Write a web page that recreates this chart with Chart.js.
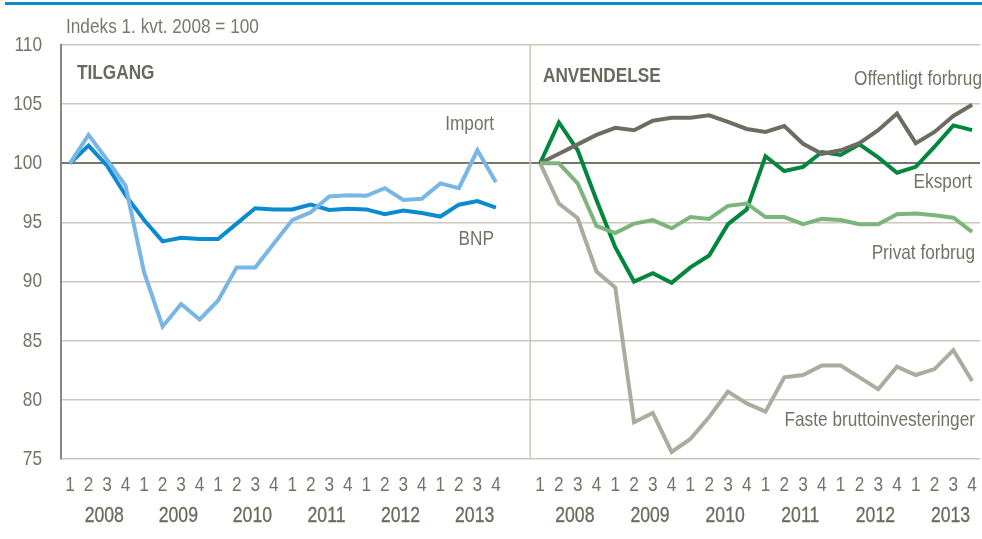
<!DOCTYPE html>
<html>
<head>
<meta charset="utf-8">
<script src="https://cdn.jsdelivr.net/npm/chart.js@4.4.1/dist/chart.umd.min.js"></script>
<style>
html, body { margin: 0; padding: 0; background: #fff; }
#chart { display: block; }
</style>
</head>
<body>
<canvas id="chart" width="982" height="539"></canvas>
<script>
// quarters 2008K1 - 2013K4, index 1. kvt. 2008 = 100
const quarters = ['1', '2', '3', '4'];
const years = ['2008', '2009', '2010', '2011', '2012', '2013'];
const yTicks = [75, 80, 85, 90, 95, 100, 105, 110];

// TILGANG
const bnp = [100, 101.5, 99.8, 97.3, 95.2, 93.4, 93.7, 93.6, 93.6, 94.9, 96.2, 96.1,
             96.1, 96.5, 96.05, 96.15, 96.1, 95.7, 96.0, 95.8, 95.5, 96.5, 96.8, 96.25];
const importSeries = [100, 102.4, 100.3, 98.1, 90.8, 86.2, 88.1, 86.8, 88.4, 91.2, 91.2, 93.2,
             95.2, 95.85, 97.2, 97.3, 97.25, 97.9, 96.9, 97.0, 98.3, 97.9, 101.1, 98.4];

// ANVENDELSE
const offentligt = [100, 100.8, 101.6, 102.4, 103.0, 102.8, 103.6, 103.85, 103.85, 104.05, 103.5, 102.9,
             102.65, 103.15, 101.65, 100.8, 101.1, 101.7, 102.8, 104.2, 101.7, 102.65, 104.0, 104.95];
const eksport = [100, 103.45, 101.1, 96.9, 92.9, 90.0, 90.7, 89.9, 91.2, 92.2, 94.85, 96.1,
             100.6, 99.35, 99.7, 100.95, 100.7, 101.6, 100.5, 99.2, 99.7, 101.4, 103.2, 102.8];
const privat = [100, 100, 98.3, 94.7, 94.1, 94.9, 95.2, 94.5, 95.45, 95.3, 96.4, 96.6,
             95.45, 95.45, 94.85, 95.3, 95.2, 94.85, 94.85, 95.7, 95.75, 95.6, 95.4, 94.2];
const faste = [100, 96.6, 95.35, 90.85, 89.5, 78.1, 78.9, 75.6, 76.7, 78.55, 80.7, 79.7,
             79.0, 81.9, 82.1, 82.9, 82.9, 81.9, 80.9, 82.8, 82.1, 82.6, 84.2, 81.6];

const FONT = "'Liberation Sans', Arial, sans-serif";
const TXT = '#747267';
const NARROW = 0.82;

function toPoints(arr) {
    return arr.map((v, i) => ({ x: i, y: v }));
}

function line(label, arr, color, axis) {
    return {
        label: label,
        data: toPoints(arr),
        xAxisID: axis,
        borderColor: color,
        borderWidth: 4,
        pointRadius: 0,
        tension: 0,
        fill: false,
        borderJoinStyle: 'miter'
    };
}

// condensed text: Liberation Sans squeezed horizontally
function narrowText(ctx, text, x, y, size, align, weight, color, stroke) {
    ctx.save();
    ctx.font = (weight || 'normal') + ' ' + size + 'px ' + FONT;
    ctx.fillStyle = color || TXT;
    ctx.textAlign = align;
    ctx.textBaseline = 'middle';
    ctx.translate(x, y);
    ctx.scale(NARROW, 1);
    ctx.fillText(text, 0, 0);
    if (stroke) {
        ctx.strokeStyle = color || TXT;
        ctx.lineWidth = stroke;
        ctx.strokeText(text, 0, 0);
    }
    ctx.restore();
}

const decorations = {
    id: 'decorations',
    beforeDatasetsDraw(chart) {
        const ctx = chart.ctx;
        const area = chart.chartArea;
        const xr = chart.scales.xr;
        // panel divider
        const xd = xr.getPixelForValue(-0.53);
        ctx.save();
        ctx.strokeStyle = '#c9c6b9';
        ctx.lineWidth = 1.5;
        ctx.beginPath();
        ctx.moveTo(xd, area.top);
        ctx.lineTo(xd, area.bottom);
        ctx.stroke();
        ctx.restore();
    },
    afterDraw(chart) {
        const ctx = chart.ctx;
        const xl = chart.scales.xl;
        const xr = chart.scales.xr;
        const y = chart.scales.y;

        // top blue rule
        ctx.fillStyle = '#0a89cf';
        ctx.fillRect(5, 2, 977, 3);

        // y tick labels
        yTicks.forEach(v => narrowText(ctx, String(v), 42, y.getPixelForValue(v), 21, 'right'));

        narrowText(ctx, 'Indeks 1. kvt. 2008 = 100', 66, 27, 21, 'left', 'normal', '#7a776c');
        narrowText(ctx, 'TILGANG', 77, 73, 21, 'left', 'bold', '#6b695e');
        narrowText(ctx, 'ANVENDELSE', 543, 76, 21, 'left', 'bold', '#6b695e');

        // quarter and year labels on both panels
        [xl, xr].forEach(scale => {
            for (let i = 0; i < years.length * 4; i++) {
                narrowText(ctx, quarters[i % 4], scale.getPixelForValue(i), 485, 21, 'center');
            }
            years.forEach((yr, k) => {
                narrowText(ctx, yr, scale.getPixelForValue(k * 4 + 1.85), 516, 21.5, 'center', 'normal', '#6b695e', 0.3);
            });
        });

        // series labels
        narrowText(ctx, 'Import', 494, 124, 21, 'right');
        narrowText(ctx, 'BNP', 494, 239, 21, 'right');
        narrowText(ctx, 'Offentligt forbrug', 982, 79, 21, 'right');
        narrowText(ctx, 'Eksport', 972, 182, 21, 'right');
        narrowText(ctx, 'Privat forbrug', 975, 253, 21, 'right');
        narrowText(ctx, 'Faste bruttoinvesteringer', 975, 420, 21, 'right');
    }
};

function generateChart() {
    let context = document.getElementById('chart').getContext('2d');
    let chart = new Chart(context, {
        type: 'line',
        data: {
            datasets: [
                line('Import', importSeries, '#77b6e5', 'xl'),
                line('BNP', bnp, '#0a8bd0', 'xl'),
                line('Faste bruttoinvesteringer', faste, '#adab9d', 'xr'),
                line('Privat forbrug', privat, '#7cb57b', 'xr'),
                line('Offentligt forbrug', offentligt, '#6e6c60', 'xr'),
                line('Eksport', eksport, '#00873d', 'xr')
            ]
        },
        options: {
            responsive: false,
            animation: false,
            devicePixelRatio: 1,
            layout: { padding: { top: 45, bottom: 80, left: 0, right: 2 } },
            plugins: {
                legend: { display: false },
                tooltip: { enabled: false }
            },
            scales: {
                xl: {
                    type: 'linear',
                    display: false,
                    min: -0.486,
                    max: 49.14
                },
                xr: {
                    type: 'linear',
                    display: false,
                    min: -25.51,
                    max: 23.42
                },
                y: {
                    min: 75,
                    max: 110,
                    afterBuildTicks: axis => { axis.ticks = yTicks.map(v => ({ value: v })); },
                    afterFit: axis => { axis.width = 61; },
                    border: { display: true, color: '#8b897d', width: 2 },
                    grid: {
                        drawTicks: false,
                        color: c => c.tick && c.tick.value === 100 ? '#78766b' : '#cbc8bb',
                        lineWidth: c => c.tick && c.tick.value === 100 ? 2 : 1.5
                    },
                    ticks: { display: false }
                }
            }
        },
        plugins: [decorations]
    });
    return chart;
}

generateChart();
</script>
</body>
</html>
